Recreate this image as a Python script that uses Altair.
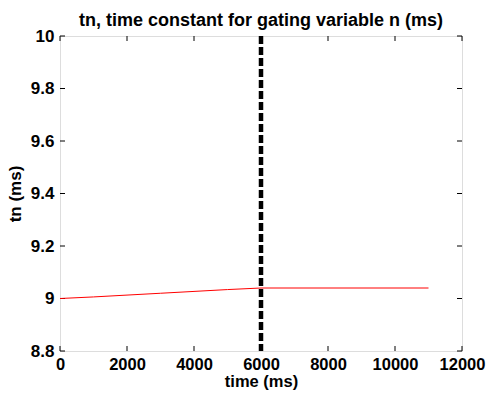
import altair as alt
import pandas as pd

# data
time_ms = [0, 1000, 2000, 3000, 4000, 5000, 6000, 11000]
tn_ms = [9.0, 9.006, 9.013, 9.02, 9.027, 9.034, 9.04, 9.04]
event_time = [6000]
x_ticks = [0, 2000, 4000, 6000, 8000, 10000, 12000]
y_ticks = [8.8, 9.0, 9.2, 9.4, 9.6, 9.8, 10.0]

W, H = 402, 315
FONT = "Liberation Sans"
FS = 17

line_df = pd.DataFrame({"t": time_ms, "tn": tn_ms})
ev_df = pd.DataFrame({"t": event_time})
xt_df = pd.DataFrame({"t": x_ticks})
yt_df = pd.DataFrame({"v": y_ticks})

xscale = alt.Scale(domain=[0, 12000], nice=False, zero=False)
yscale = alt.Scale(domain=[8.8, 10.0], nice=False, zero=False)

ylabel_expr = "datum.value == 9 ? '9' : datum.value == 10 ? '10' : format(datum.value, '.1f')"

line = alt.Chart(line_df).mark_line(color="#ff0000", strokeWidth=1).encode(
    x=alt.X("t:Q", scale=xscale,
            axis=alt.Axis(values=x_ticks, title="time (ms)", format="d", labelFlush=False,
                          labelOverlap=False,
                          labelFont=FONT, labelFontSize=16.5, labelFontWeight="bold", labelColor="black",
                          titleFont=FONT, titleFontSize=16.5, titleFontWeight="bold", titleColor="black",
                          tickSize=0, labelPadding=5, titlePadding=1, domain=False, grid=False)),
    y=alt.Y("tn:Q", scale=yscale,
            axis=alt.Axis(values=y_ticks, title="tn (ms)", labelExpr=ylabel_expr, labelFlush=False,
                          labelOverlap=False,
                          labelFont=FONT, labelFontSize=FS, labelFontWeight="bold", labelColor="black",
                          titleFont=FONT, titleFontSize=FS, titleFontWeight="bold", titleColor="black",
                          tickSize=0, labelPadding=6, titlePadding=6, domain=False, grid=False)),
)

vline = alt.Chart(ev_df).mark_rule(color="black", strokeWidth=4.5, strokeDash=[8, 3]).encode(
    x=alt.X("t:Q", scale=xscale)
)

tl = 5
xb = alt.Chart(xt_df).mark_rule(color="black", strokeWidth=1).encode(
    x=alt.X("t:Q", scale=xscale), y=alt.value(H), y2=alt.value(H - tl))
xtp = alt.Chart(xt_df).mark_rule(color="black", strokeWidth=1).encode(
    x=alt.X("t:Q", scale=xscale), y=alt.value(0), y2=alt.value(tl))
yl = alt.Chart(yt_df).mark_rule(color="black", strokeWidth=1).encode(
    y=alt.Y("v:Q", scale=yscale), x=alt.value(0), x2=alt.value(tl))
yr = alt.Chart(yt_df).mark_rule(color="black", strokeWidth=1).encode(
    y=alt.Y("v:Q", scale=yscale), x=alt.value(W), x2=alt.value(W - tl))

chart = alt.layer(xb, xtp, yl, yr, line, vline).properties(
    width=W, height=H,
    title=alt.Title("tn, time constant for gating variable n (ms)", font=FONT, fontSize=18,
                    fontWeight="bold", color="black", offset=-3),
    autosize=alt.AutoSizeParams(type="none"),
    padding={"left": 60, "top": 36, "right": 26, "bottom": 45},
).configure_view(stroke="black", strokeWidth=1).configure(background="white")

chart.save("out.html", embed_options={"renderer": "svg", "actions": False})
